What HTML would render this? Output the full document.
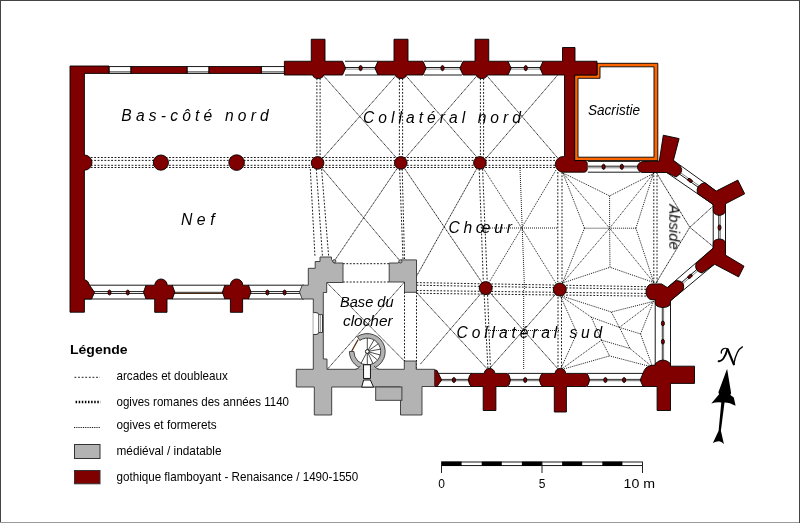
<!DOCTYPE html>
<html><head><meta charset="utf-8"><style>
html,body{margin:0;padding:0;background:#fff;}
svg{display:block;}
text{will-change:transform;}
.txt{opacity:0.999;}
.r{fill:#800000;stroke:#000;stroke-width:0.9;}
.g{fill:#b3b3b3;stroke:#333;stroke-width:0.9;}
.w{fill:#fff;stroke:#000;stroke-width:0.9;}
.d{stroke:#000;stroke-width:0.9;stroke-dasharray:1.8,1.6;fill:none;}
.t{stroke:#000;stroke-width:0.9;stroke-dasharray:1.2,0.6;fill:none;}
.f{stroke:#000;stroke-width:0.9;stroke-dasharray:1,1;fill:none;}
</style></head><body>
<svg width="800" height="523" viewBox="0 0 800 523">
<rect x="0" y="0" width="800" height="523" fill="#fff"/><rect x="0" y="0" width="800" height="1" fill="#444"/><rect x="0" y="0" width="1" height="523" fill="#444"/><rect x="799" y="0" width="1" height="523" fill="#444"/><rect x="0" y="522" width="799" height="1" fill="#999"/>
<line x1="84" y1="157.5" x2="556" y2="157.5" class="d"/>
<line x1="84" y1="160.4" x2="556" y2="160.4" class="d"/>
<line x1="84" y1="165.3" x2="556" y2="165.3" class="d"/>
<line x1="84" y1="167.5" x2="556" y2="167.5" class="d"/>
<line x1="416.5" y1="282.6" x2="657" y2="286.9" class="d"/>
<line x1="416.5" y1="285.2" x2="657" y2="289.5" class="d"/>
<line x1="416.5" y1="290.5" x2="657" y2="293.6" class="d"/>
<line x1="416.5" y1="293.3" x2="657" y2="296.2" class="d"/>
<line x1="316.9" y1="75" x2="316.9" y2="157" class="d"/>
<line x1="320.1" y1="75" x2="320.1" y2="157" class="d"/>
<line x1="399.4" y1="75" x2="399.4" y2="157" class="d"/>
<line x1="402.6" y1="75" x2="402.6" y2="157" class="d"/>
<line x1="480.4" y1="75" x2="480.4" y2="157" class="d"/>
<line x1="483.6" y1="75" x2="483.6" y2="157" class="d"/>
<line x1="310.3" y1="169" x2="315" y2="257" class="d"/>
<line x1="316.3" y1="169" x2="322.5" y2="257" class="d"/>
<line x1="321.6" y1="169" x2="328.7" y2="257" class="d"/>
<line x1="399.6" y1="169" x2="403" y2="259" class="d"/>
<line x1="402.2" y1="169" x2="404.5" y2="259" class="d"/>
<line x1="479.2" y1="169" x2="483.3" y2="281" class="d"/>
<line x1="482.6" y1="169" x2="487.2" y2="281" class="d"/>
<line x1="557.8" y1="172" x2="557.8" y2="282" class="d"/>
<line x1="562" y1="172" x2="562" y2="282" class="d"/>
<line x1="653.8" y1="172" x2="653.8" y2="283" class="d"/>
<line x1="657" y1="172" x2="657" y2="283" class="d"/>
<line x1="343" y1="263.7" x2="389.2" y2="263.7" class="d"/>
<line x1="343" y1="282" x2="389.2" y2="282" class="d"/>
<line x1="404.5" y1="292" x2="404.5" y2="361" class="d"/>
<line x1="416.5" y1="292" x2="416.5" y2="370" class="d"/>
<line x1="484.2" y1="295" x2="488" y2="370" class="d"/>
<line x1="487.6" y1="295" x2="490.5" y2="370" class="d"/>
<line x1="558" y1="297" x2="558" y2="370" class="d"/>
<line x1="561.5" y1="297" x2="561.5" y2="370" class="d"/>
<line x1="318.5" y1="70" x2="401" y2="163" class="t"/>
<line x1="401" y1="70" x2="318.5" y2="163" class="t"/>
<line x1="401" y1="70" x2="482" y2="163" class="t"/>
<line x1="482" y1="70" x2="401" y2="163" class="t"/>
<line x1="482" y1="70" x2="562" y2="163" class="t"/>
<line x1="562" y1="70" x2="482" y2="163" class="t"/>
<line x1="317.6" y1="163" x2="400.4" y2="261.4" class="t"/>
<line x1="400.8" y1="163" x2="334.3" y2="261" class="t"/>
<line x1="400.8" y1="163" x2="485.7" y2="288" class="t"/>
<line x1="479.9" y1="163" x2="410.5" y2="287" class="t"/>
<line x1="326.7" y1="282.5" x2="404.3" y2="361" class="t"/>
<line x1="404.5" y1="282" x2="327.3" y2="369.3" class="t"/>
<line x1="416.2" y1="292.2" x2="488.2" y2="370" class="t"/>
<line x1="485.7" y1="288" x2="420" y2="364.6" class="t"/>
<line x1="485.7" y1="288" x2="559" y2="370" class="t"/>
<line x1="559.8" y1="289.5" x2="488.2" y2="370" class="t"/>
<line x1="479.9" y1="163" x2="521.6" y2="228" class="f"/>
<line x1="556" y1="170" x2="521.6" y2="228" class="f"/>
<line x1="559.8" y1="289.5" x2="521.6" y2="228" class="f"/>
<line x1="485.7" y1="288" x2="521.6" y2="228" class="f"/>
<line x1="520" y1="168" x2="524.5" y2="289" class="f"/>
<line x1="482" y1="228" x2="558" y2="228" class="f"/>
<line x1="523.7" y1="290" x2="523.7" y2="370" class="f"/>
<line x1="486" y1="330.5" x2="560" y2="330.5" class="f"/>
<line x1="562.9" y1="172.9" x2="609.6" y2="228.2" class="f"/>
<line x1="653.4" y1="173.6" x2="609.6" y2="228.2" class="f"/>
<line x1="562.5" y1="283" x2="609.6" y2="228.2" class="f"/>
<line x1="653.75" y1="282.5" x2="609.6" y2="228.2" class="f"/>
<line x1="609.6" y1="195.9" x2="609.6" y2="228.2" class="f"/>
<line x1="584.5" y1="228.2" x2="609.6" y2="228.2" class="f"/>
<line x1="610" y1="267.25" x2="609.6" y2="228.2" class="f"/>
<line x1="635.9" y1="228.2" x2="609.6" y2="228.2" class="f"/>
<line x1="562.9" y1="172.9" x2="609.6" y2="195.9" class="f"/>
<line x1="653.4" y1="173.6" x2="609.6" y2="195.9" class="f"/>
<line x1="562.9" y1="172.9" x2="584.5" y2="228.2" class="f"/>
<line x1="562.5" y1="283" x2="584.5" y2="228.2" class="f"/>
<line x1="562.5" y1="283" x2="610" y2="267.25" class="f"/>
<line x1="653.75" y1="282.5" x2="610" y2="267.25" class="f"/>
<line x1="653.4" y1="173.6" x2="635.9" y2="228.2" class="f"/>
<line x1="653.75" y1="282.5" x2="635.9" y2="228.2" class="f"/>
<line x1="656" y1="172" x2="689.8" y2="227.3" class="t"/>
<line x1="656" y1="283" x2="689.8" y2="227.3" class="t"/>
<line x1="713.7" y1="205.6" x2="689.8" y2="227.3" class="t"/>
<line x1="713.7" y1="247" x2="689.8" y2="227.3" class="t"/>
<line x1="560.2" y1="295.5" x2="611.3" y2="312" class="f"/>
<line x1="653.5" y1="301.4" x2="611.3" y2="312" class="f"/>
<line x1="560.2" y1="295.5" x2="591.3" y2="317.2" class="f"/>
<line x1="591.3" y1="317.2" x2="619.4" y2="327.4" class="f"/>
<line x1="619.4" y1="327.4" x2="640.5" y2="333.9" class="f"/>
<line x1="653.5" y1="301.4" x2="619.4" y2="327.4" class="f"/>
<line x1="653.5" y1="301.4" x2="640.5" y2="333.9" class="f"/>
<line x1="652.7" y1="367.2" x2="640.5" y2="333.9" class="f"/>
<line x1="611.3" y1="312" x2="619.4" y2="327.4" class="f"/>
<line x1="619.4" y1="327.4" x2="630" y2="348.5" class="f"/>
<line x1="630" y1="348.5" x2="652.7" y2="367.2" class="f"/>
<line x1="601.5" y1="340.2" x2="630" y2="348.5" class="f"/>
<line x1="560.2" y1="370" x2="609.6" y2="355.9" class="f"/>
<line x1="652.7" y1="367.2" x2="609.6" y2="355.9" class="f"/>
<line x1="601.5" y1="340.2" x2="609.6" y2="355.9" class="f"/>
<line x1="591.3" y1="317.2" x2="601.5" y2="340.2" class="f"/>
<line x1="560.2" y1="370" x2="601.5" y2="340.2" class="f"/>
<line x1="560.2" y1="295.5" x2="577" y2="333" class="f"/>
<line x1="560.2" y1="370" x2="577" y2="333" class="f"/>
<line x1="657" y1="372" x2="657" y2="292" class="f"/>
<rect class="w" x="109" y="66.6" width="22.00" height="6.8"/>
<line x1="109" y1="71.9" x2="131" y2="71.9" stroke="#000" stroke-width="0.8"/>
<rect class="w" x="187" y="66.6" width="22.00" height="6.8"/>
<line x1="187" y1="71.9" x2="209" y2="71.9" stroke="#000" stroke-width="0.8"/>
<rect class="w" x="261.25" y="66.6" width="23.15" height="6.8"/>
<line x1="261.25" y1="71.9" x2="284.4" y2="71.9" stroke="#000" stroke-width="0.8"/>
<rect class="r" x="131" y="66.6" width="56.00" height="6.80"/>
<rect class="r" x="209" y="66.6" width="52.25" height="6.80"/>
<circle class="r" cx="317.6" cy="162.9" r="6.3"/>
<circle class="r" cx="400.8" cy="162.9" r="6.3"/>
<circle class="r" cx="479.9" cy="162.9" r="6.3"/>
<circle class="r" cx="485.7" cy="288.1" r="6.5"/>
<circle class="r" cx="559.8" cy="289.5" r="6.5"/>
<rect x="84.4" y="285.2" width="61.60" height="13.8" fill="#fff" stroke="none"/>
<line x1="84.4" y1="285.2" x2="146" y2="285.2" stroke="#000" stroke-width="0.9"/>
<line x1="84.4" y1="299" x2="146" y2="299" stroke="#000" stroke-width="0.9"/>
<rect x="84.4" y="291.5" width="61.60" height="2" fill="#eee" stroke="#000" stroke-width="0.8"/>
<ellipse class="r" cx="109.5" cy="292.5" rx="1.5" ry="2.5"/>
<ellipse class="r" cx="127.8" cy="292.5" rx="1.5" ry="2.5"/>
<rect x="172" y="285.2" width="53.00" height="13.8" fill="#fff" stroke="none"/>
<line x1="172" y1="285.2" x2="225" y2="285.2" stroke="#000" stroke-width="0.9"/>
<line x1="172" y1="299" x2="225" y2="299" stroke="#000" stroke-width="0.9"/>
<line x1="172" y1="292.3" x2="225" y2="292.3" stroke="#000" stroke-width="0.8"/>
<line x1="172" y1="293.4" x2="225" y2="293.4" stroke="#4a2a10" stroke-width="1.3"/>
<rect x="248" y="285.2" width="56.00" height="13.8" fill="#fff" stroke="none"/>
<line x1="248" y1="285.2" x2="304" y2="285.2" stroke="#000" stroke-width="0.9"/>
<line x1="248" y1="299" x2="304" y2="299" stroke="#000" stroke-width="0.9"/>
<rect x="248" y="291.5" width="56.00" height="2" fill="#eee" stroke="#000" stroke-width="0.8"/>
<ellipse class="r" cx="267.4" cy="292.5" rx="1.5" ry="2.5"/>
<ellipse class="r" cx="284.6" cy="292.5" rx="1.5" ry="2.5"/>
<path class="r" d="M146.0,285.2 H154.8 A6.2,6.2 0 0 1 167.2,285.2 H172.3 L174.8,292.1 L172.3,299 H167 V312.3 H154.7 V299 H146.0 L143.5,292.1 Z"/>
<path class="r" d="M224.9,285.2 H230.4 A6.2,6.2 0 0 1 242.79999999999998,285.2 H248.5 L251,292.1 L248.5,299 H242.6 V312.3 H230.4 V299 H224.9 L222.4,292.1 Z"/>
<path class="r" d="M70,66 H109 V73.4 H84.4 V155 A7.6,7.6 0 0 1 84.4,170.2 V279.5 Q88.5,280.5 89.5,285.2 L94.5,292.3 L91.6,299 H84.4 V312.2 H70 Z"/>
<circle class="r" cx="160.9" cy="162.6" r="7.6"/>
<circle class="r" cx="236.6" cy="162.6" r="7.8"/>
<rect x="345" y="61.25" width="33.00" height="13.75" fill="#fff"/>
<line x1="345" y1="61.25" x2="378" y2="61.25" stroke="#000" stroke-width="0.9"/>
<line x1="345" y1="75" x2="378" y2="75" stroke="#000" stroke-width="0.9"/>
<line x1="345" y1="67.53" x2="378" y2="67.53" stroke="#000" stroke-width="0.9"/>
<line x1="345" y1="69.12" x2="378" y2="69.12" stroke="#888" stroke-width="1"/>
<ellipse class="r" cx="360.6" cy="68.12" rx="1.6" ry="2.6"/>
<rect x="424" y="61.25" width="38.00" height="13.75" fill="#fff"/>
<line x1="424" y1="61.25" x2="462" y2="61.25" stroke="#000" stroke-width="0.9"/>
<line x1="424" y1="75" x2="462" y2="75" stroke="#000" stroke-width="0.9"/>
<line x1="424" y1="67.53" x2="462" y2="67.53" stroke="#000" stroke-width="0.9"/>
<line x1="424" y1="69.12" x2="462" y2="69.12" stroke="#888" stroke-width="1"/>
<ellipse class="r" cx="442.5" cy="68.12" rx="1.6" ry="2.6"/>
<rect x="508" y="61.25" width="35.00" height="13.75" fill="#fff"/>
<line x1="508" y1="61.25" x2="543" y2="61.25" stroke="#000" stroke-width="0.9"/>
<line x1="508" y1="75" x2="543" y2="75" stroke="#000" stroke-width="0.9"/>
<line x1="508" y1="67.53" x2="543" y2="67.53" stroke="#000" stroke-width="0.9"/>
<line x1="508" y1="69.12" x2="543" y2="69.12" stroke="#888" stroke-width="1"/>
<ellipse class="r" cx="525.75" cy="68.12" rx="1.6" ry="2.6"/>
<path class="r" d="M284.4,61.25 H311.25 V39.25 H325 V61.25 H342.5 L345.6,68.125 L342.5,75 H323.525 A5.4,3.6 0 0 1 312.725,75 H284.4 Z"/>
<path class="r" d="M378,61.25 H394 V39.25 H408 V61.25 H423 L426.1,68.125 L423,75 H406.4 A5.4,3.6 0 0 1 395.6,75 H378 L374.9,68.125 Z"/>
<path class="r" d="M463,61.25 H475 V39.25 H488.75 V61.25 H508 L511.1,68.125 L508,75 H487.275 A5.4,3.6 0 0 1 476.475,75 H463 L459.9,68.125 Z"/>
<polygon points="597,63.3 657.8,63.3 657.8,160.6 574.7,160.6 574.7,74.9 597,74.9" fill="#ff6600" stroke="#000" stroke-width="0.9"/>
<polygon points="600,66.8 654,66.8 654,157.2 578,157.2 578,78.3 600,78.3" fill="#fff" stroke="#000" stroke-width="0.9"/>
<path class="r" d="M543,61.25 H562.5 V47.5 H575 V61.25 H597 V75 H574.4 V160.6 H583.8 Q587.8,160.6 587.8,166.4 Q587.8,172.2 583.8,172.2 H563.5 A8,8 0 0 1 555.3,164.3 A8,8 0 0 1 563.5,156.5 H564.5 V75 H543 L540,68.125 Z"/>
<rect x="587.8" y="161.4" width="52.20" height="10.80" fill="#fff"/>
<line x1="587.8" y1="161.4" x2="640" y2="161.4" stroke="#000" stroke-width="0.9"/>
<line x1="587.8" y1="172.2" x2="640" y2="172.2" stroke="#000" stroke-width="0.9"/>
<line x1="587.8" y1="166.20" x2="640" y2="166.20" stroke="#000" stroke-width="0.9"/>
<line x1="587.8" y1="167.80" x2="640" y2="167.80" stroke="#888" stroke-width="1"/>
<ellipse class="r" cx="603.6" cy="166.80" rx="1.6" ry="2.6"/>
<ellipse class="r" cx="621.8" cy="166.80" rx="1.6" ry="2.6"/>
<polygon class="w" points="673.4,160.4 716.1,191.1 713.2,204.5 666.7,172.5"/>
<rect class="w" x="713.2" y="204" width="12.3" height="48"/>
<polygon class="w" points="667.3,287.6 713.2,248.1 714.5,264.2 670.5,300.8"/>
<line x1="669.59" y1="167.10" x2="714.19" y2="198.45" stroke="#000" stroke-width="0.9"/>
<line x1="670.57" y1="165.71" x2="715.17" y2="197.06" stroke="#888" stroke-width="1"/>
<line x1="718.8" y1="204" x2="718.8" y2="252" stroke="#000" stroke-width="0.9"/>
<line x1="720.4" y1="204" x2="720.4" y2="252" stroke="#888" stroke-width="1"/>
<line x1="668.38" y1="293.59" x2="713.33" y2="255.54" stroke="#000" stroke-width="0.9"/>
<line x1="669.48" y1="294.89" x2="714.43" y2="256.84" stroke="#888" stroke-width="1"/>
<ellipse class="r" cx="690" cy="180.4" rx="2.6" ry="1.5" transform="rotate(35 690 180.4)"/>
<ellipse class="r" cx="719.5" cy="227.6" rx="1.5" ry="2.6"/>
<ellipse class="r" cx="690" cy="276.4" rx="2.6" ry="1.5" transform="rotate(-40 690 276.4)"/>
<path class="r" d="M643,161.6 L659.3,161 L663.3,135.2 L679.1,138.6 L673.4,160.4 L680.5,166.5 Q684.5,172 676,177 L666.7,172.5 L643,172.5 A5.5,5.45 0 0 1 643,161.6 Z"/>
<path class="r" d="M704.8,182.5 L716.1,191.1 L737.8,180.1 L744.7,193.8 L725.5,203.8 L725.5,210.5 Q725.5,214.5 719.35,215.5 Q713.2,214.5 713.2,210.5 L713.2,204.5 L697.4,193.5 Q695.5,185 704.8,182.5 Z"/>
<path class="r" d="M713.2,248.1 L713.2,243.5 Q713.2,239.4 719.35,239 Q725.5,239.4 725.5,243.5 L725.5,255.1 L744,266.2 L738.6,276.9 L714.5,264.2 L702,273 Q694,271 696,263.5 Z"/>
<rect class="w" x="655.2" y="300" width="15.3" height="66"/>
<line x1="662.3" y1="300" x2="662.3" y2="366" stroke="#000" stroke-width="0.8"/>
<line x1="663.5" y1="300" x2="663.5" y2="366" stroke="#888" stroke-width="1.2"/>
<ellipse class="r" cx="662.9" cy="323.4" rx="1.5" ry="2.4"/>
<ellipse class="r" cx="662.9" cy="341.7" rx="1.5" ry="2.4"/>
<path class="r" d="M652,283.9 L661.5,283.9 L667.3,287.6 L676.3,280.5 Q686,281 683.1,290 L670.5,300.8 L670.5,302.5 Q670.5,307.3 662.9,307.5 Q655.2,307.3 655.2,302.5 L655.2,299.7 L652,299.7 A6,7.9 0 0 1 652,283.9 Z"/>
<rect x="436" y="373.4" width="36.00" height="13.10" fill="#fff"/>
<line x1="436" y1="373.4" x2="472" y2="373.4" stroke="#000" stroke-width="0.9"/>
<line x1="436" y1="386.5" x2="472" y2="386.5" stroke="#000" stroke-width="0.9"/>
<line x1="436" y1="379.4" x2="472" y2="379.4" stroke="#000" stroke-width="0.8"/>
<line x1="436" y1="380.6" x2="472" y2="380.6" stroke="#888" stroke-width="1.3"/>
<ellipse class="r" cx="453.9" cy="380" rx="1.6" ry="2.5"/>
<rect x="508" y="373.4" width="35.00" height="13.10" fill="#fff"/>
<line x1="508" y1="373.4" x2="543" y2="373.4" stroke="#000" stroke-width="0.9"/>
<line x1="508" y1="386.5" x2="543" y2="386.5" stroke="#000" stroke-width="0.9"/>
<line x1="508" y1="379.4" x2="543" y2="379.4" stroke="#000" stroke-width="0.8"/>
<line x1="508" y1="380.6" x2="543" y2="380.6" stroke="#888" stroke-width="1.3"/>
<ellipse class="r" cx="525.2" cy="380" rx="1.6" ry="2.5"/>
<rect x="587" y="373.4" width="58.00" height="13.10" fill="#fff"/>
<line x1="587" y1="373.4" x2="645" y2="373.4" stroke="#000" stroke-width="0.9"/>
<line x1="587" y1="386.5" x2="645" y2="386.5" stroke="#000" stroke-width="0.9"/>
<line x1="587" y1="379.4" x2="645" y2="379.4" stroke="#000" stroke-width="0.8"/>
<line x1="587" y1="380.6" x2="645" y2="380.6" stroke="#888" stroke-width="1.3"/>
<ellipse class="r" cx="605.4" cy="380" rx="1.6" ry="2.5"/>
<ellipse class="r" cx="624.1" cy="380" rx="1.6" ry="2.5"/>
<path class="r" d="M471.5,373.4 H484.24999999999994 A5.3,5 0 0 1 494.84999999999997,373.4 H507.3 Q509.5,374.4 510.5,379.95 Q509.5,385.5 507.3,386.5 H495.9 V410.5 H483.2 V386.5 H471.5 Q469.3,385.5 468.3,379.95 Q469.3,374.4 471.5,373.4 Z"/>
<path class="r" d="M542.6,373.4 H555.05 A5.3,5 0 0 1 565.6499999999999,373.4 H586.4 Q588.6,374.4 589.6,379.95 Q588.6,385.5 586.4,386.5 H566.4 V412 H554.3 V386.5 H542.6 Q540.4,385.5 539.4,379.95 Q540.4,374.4 542.6,373.4 Z"/>
<path class="r" d="M643,373.4 Q645,366.5 651,365.5 L655.3,365 L655.3,363.5 Q662.9,356.5 670.5,363.5 L670.5,366.2 L694.5,366.2 L694.5,383.4 L670.5,383.4 L670.5,410.5 L657.1,410.5 L657.1,386.5 L643,386.5 L640.2,380 Z"/>
<path class="r" d="M434.5,369.8 L437,370.5 L441.6,380 L437,386.5 L434.5,386.5 Z"/>
<path class="g" d="M320,257 H331.5 V259.5 L334,263 H343 V282.5 H326.7 V292.5 H323.3 V359 H327 V369.3 H360.5 L373.5,369.3 H404.3 V361 H416.2 V369.3 H434.5 V386.5 H422 V415 H400.5 V387 H331.7 V415 H314.3 V387 H296.3 V369.3 H313.3 V299 H302.2 L299.5,292.1 L302.2,285.2 H308.3 V268.3 H315.2 V261.5 H320 Z"/>
<rect class="g" x="375.7" y="387" width="26.2" height="13.3"/>
<path class="g" d="M389.2,263 H398.1 L401,259.9 H416.5 V292.3 H404.5 V282 H389.2 Z"/>
<circle class="g" cx="334.3" cy="261.2" r="1.6"/>
<circle class="g" cx="400.4" cy="261.4" r="1.6"/>
<path d="M313.3,312.6 H316 Q318.7,312.6 318.7,314.6 H322.5 V332.5 H318.7 Q318.7,334.5 316,334.5 H313.3 Z" fill="#fff"/>
<path d="M313.3,312.6 H316 Q318.7,312.6 318.7,314.6 H322.5 V332.5 H318.7 Q318.7,334.5 316,334.5 H313.3" fill="none" stroke="#222" stroke-width="0.9"/>
<line x1="318.7" y1="314.6" x2="318.7" y2="332.5" stroke="#222" stroke-width="0.8"/>
<line x1="320.6" y1="314.6" x2="320.6" y2="332.5" stroke="#777" stroke-width="0.8"/>
<path class="g" d="M357.29,336.66 A17.9,17.9 0 1 1 367.30,369.40 L367.30,364.90 A13.4,13.4 0 1 0 359.81,340.39 Z"/>
<path class="g" d="M367.30,369.40 A17.9,17.9 0 0 1 349.40,351.50 L353.90,351.50 A13.4,13.4 0 0 0 367.30,364.90 Z"/>
<line x1="351.8" y1="351" x2="358" y2="339.7" stroke="#5a2a0a" stroke-width="1.3"/>
<line x1="367.3" y1="351.5" x2="367.30" y2="338.10" stroke="#000" stroke-width="0.7"/>
<line x1="367.3" y1="351.5" x2="374.00" y2="339.90" stroke="#000" stroke-width="0.7"/>
<line x1="367.3" y1="351.5" x2="378.28" y2="343.81" stroke="#000" stroke-width="0.7"/>
<line x1="367.3" y1="351.5" x2="380.50" y2="349.17" stroke="#000" stroke-width="0.7"/>
<line x1="367.3" y1="351.5" x2="380.24" y2="354.97" stroke="#000" stroke-width="0.7"/>
<line x1="367.3" y1="351.5" x2="377.56" y2="360.11" stroke="#000" stroke-width="0.7"/>
<line x1="367.3" y1="351.5" x2="372.96" y2="363.64" stroke="#000" stroke-width="0.7"/>
<line x1="367.3" y1="351.5" x2="367.30" y2="364.90" stroke="#000" stroke-width="0.7"/>
<line x1="367.3" y1="351.5" x2="361.01" y2="363.33" stroke="#000" stroke-width="0.7"/>
<circle class="w" cx="367.3" cy="351.5" r="1.9"/>
<path d="M355.5,369.8 Q358.5,368.5 360,365.5 H374.6 Q376,368.5 379,369.8 Z" fill="#b3b3b3"/>
<path d="M355.5,369.3 Q358.5,368.5 360.5,366" fill="none" stroke="#333" stroke-width="0.9"/>
<path d="M379,369.3 Q376,368.5 374.1,366" fill="none" stroke="#333" stroke-width="0.9"/>
<rect class="w" x="363.6" y="364.8" width="6.8" height="13.6"/>
<path class="w" d="M363.6,380 H370.4 L373.5,387.1 H361.7 Z"/>
<g class="txt" font-family="Liberation Sans, sans-serif" fill="#000">
<text x="121.3" y="121.4" font-size="15.6" font-style="italic" textLength="147.5" lengthAdjust="spacing">Bas-côté nord</text>
<text x="180.9" y="225.1" font-size="15.8" font-style="italic" textLength="33.7" lengthAdjust="spacing">Nef</text>
<text x="363" y="123" font-size="15.6" font-style="italic" textLength="158" lengthAdjust="spacing">Collatéral nord</text>
<text x="588" y="115" font-size="15.4" font-style="italic" textLength="52" lengthAdjust="spacingAndGlyphs">Sacristie</text>
<text x="448.4" y="233" font-size="15.6" font-style="italic" textLength="63.6" lengthAdjust="spacing">Chœur</text>
<text x="456.6" y="338.1" font-size="15.6" font-style="italic" textLength="145.7" lengthAdjust="spacing">Collatéral sud</text>
<text x="340" y="306.8" font-size="15" font-style="italic" textLength="53.6" lengthAdjust="spacingAndGlyphs">Base du</text>
<text x="343" y="325.6" font-size="15" font-style="italic" textLength="49.6" lengthAdjust="spacingAndGlyphs">clocher</text>
<text x="0" y="0" font-size="15" font-style="italic" textLength="45.4" lengthAdjust="spacingAndGlyphs" transform="translate(669.3,204.3) rotate(90)">Abside</text>
<text x="70" y="354.2" font-size="13.6" font-weight="bold" textLength="57.6" lengthAdjust="spacingAndGlyphs">Légende</text>
<text x="116.5" y="379.5" font-size="12.2" textLength="111.3" lengthAdjust="spacingAndGlyphs">arcades et doubleaux</text>
<text x="116.5" y="405.5" font-size="12.2" textLength="172.5" lengthAdjust="spacingAndGlyphs">ogives romanes des années 1140</text>
<text x="116.5" y="429.3" font-size="12.2" textLength="100.1" lengthAdjust="spacingAndGlyphs">ogives et formerets</text>
<text x="116.5" y="454.5" font-size="12.2" textLength="105" lengthAdjust="spacingAndGlyphs">médiéval / indatable</text>
<text x="116.5" y="480.8" font-size="12.2" textLength="241.8" lengthAdjust="spacingAndGlyphs">gothique flamboyant - Renaisance / 1490-1550</text>
<text x="441.5" y="488" font-size="12" text-anchor="middle">0</text>
<text x="542" y="488" font-size="12" text-anchor="middle">5</text>
<text x="623.5" y="488" font-size="12" textLength="31.5" lengthAdjust="spacingAndGlyphs">10 m</text>
</g>
<line x1="74.5" y1="377.3" x2="100" y2="377.3" stroke="#000" stroke-width="0.9" stroke-dasharray="1.8,1.8"/>
<line x1="75.6" y1="402" x2="100.6" y2="402" stroke="#000" stroke-width="2.6" stroke-dasharray="1.5,1.6"/>
<line x1="74" y1="427.5" x2="100" y2="427.5" stroke="#000" stroke-width="0.9" stroke-dasharray="1,0.8"/>
<rect x="74.5" y="444.5" width="25.5" height="14" fill="#b3b3b3" stroke="#333" stroke-width="1"/>
<rect x="74.5" y="470.5" width="25.5" height="13.3" fill="#800000" stroke="#333" stroke-width="1"/>
<rect x="441.5" y="462" width="201" height="3.6" fill="#fff" stroke="#000" stroke-width="0.9"/>
<rect x="441.50" y="461.6" width="20.1" height="4.4" fill="#000"/>
<rect x="481.70" y="461.6" width="20.1" height="4.4" fill="#000"/>
<rect x="521.90" y="461.6" width="20.1" height="4.4" fill="#000"/>
<rect x="562.10" y="461.6" width="20.1" height="4.4" fill="#000"/>
<rect x="602.30" y="461.6" width="20.1" height="4.4" fill="#000"/>
<line x1="441.5" y1="462" x2="441.5" y2="473" stroke="#222" stroke-width="1"/>
<line x1="542" y1="462" x2="542" y2="473" stroke="#222" stroke-width="1"/>
<line x1="642.5" y1="462" x2="642.5" y2="473" stroke="#222" stroke-width="1"/>
<path d="M727.1,368.8 L731.1,392.9 L730.4,394.9 L733.8,397.6 L735.6,405.8 Q729.5,402.3 724.5,402.4 L720.9,430.8 L723.9,444 Q721,441 718.7,441.3 Q716,441.5 712.9,442.9 L718.6,430.8 L721.3,402.4 Q716,402 711.3,403.4 L719.1,394.2 L718.4,392.2 Z" fill="#000"/>
<g fill="none" stroke="#000" stroke-linecap="round">
<path d="M718.6,361.2 C721.5,361.8 725.2,358 727.3,349.6" stroke-width="1.9"/>
<path d="M721.3,353.2 C720.8,349.3 724.6,346.9 728.2,349.2" stroke-width="1.2"/>
<path d="M727.8,349.6 L733.8,364.3" stroke-width="2.2"/>
<path d="M733.8,364.3 C735.2,356 738,349.2 742.4,346.9" stroke-width="1.3"/>
</g>
</svg></body></html>
